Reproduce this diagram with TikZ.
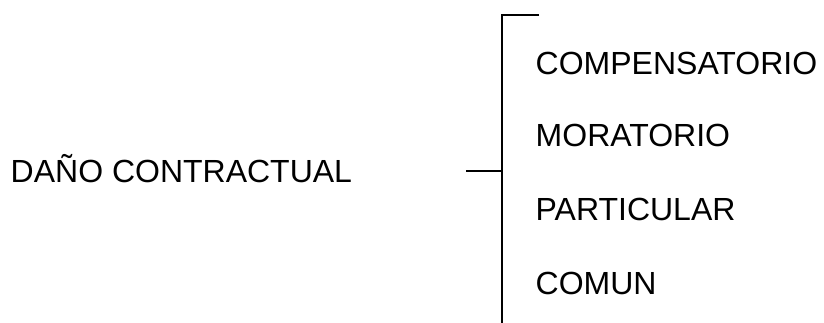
\documentclass[tikz,border=0pt]{standalone}
\usepackage{fontspec}
\setmainfont{Liberation Sans}
\begin{document}
\begin{tikzpicture}[x=1pt,y=1pt,
  lbl/.style={anchor=base west,inner sep=0pt,font=\fontsize{32}{38}\selectfont},
  brk/.style={line width=1.8pt,line cap=butt}]
\useasboundingbox (0,0) rectangle (824,323);
\node[lbl] (dano) at (10.5,140) {DAÑO CONTRACTUAL};
\node[lbl] (comp) at (535.5,248) {COMPENSATORIO};
\node[lbl] (mora) at (535.5,176) {MORATORIO};
\node[lbl] (part) at (535.5,102) {PARTICULAR};
\node[lbl] (comu) at (535.5,28) {COMUN};
\coordinate (topend) at (539,308);
\coordinate (topc) at (502,308);
\coordinate (botc) at (502,0);
\coordinate (midc) at (502,152);
\coordinate (midend) at (466,152);
\draw[brk] (topend) -- (topc) -- (botc);
\draw[brk] (midend) -- (midc);
\end{tikzpicture}
\end{document}
